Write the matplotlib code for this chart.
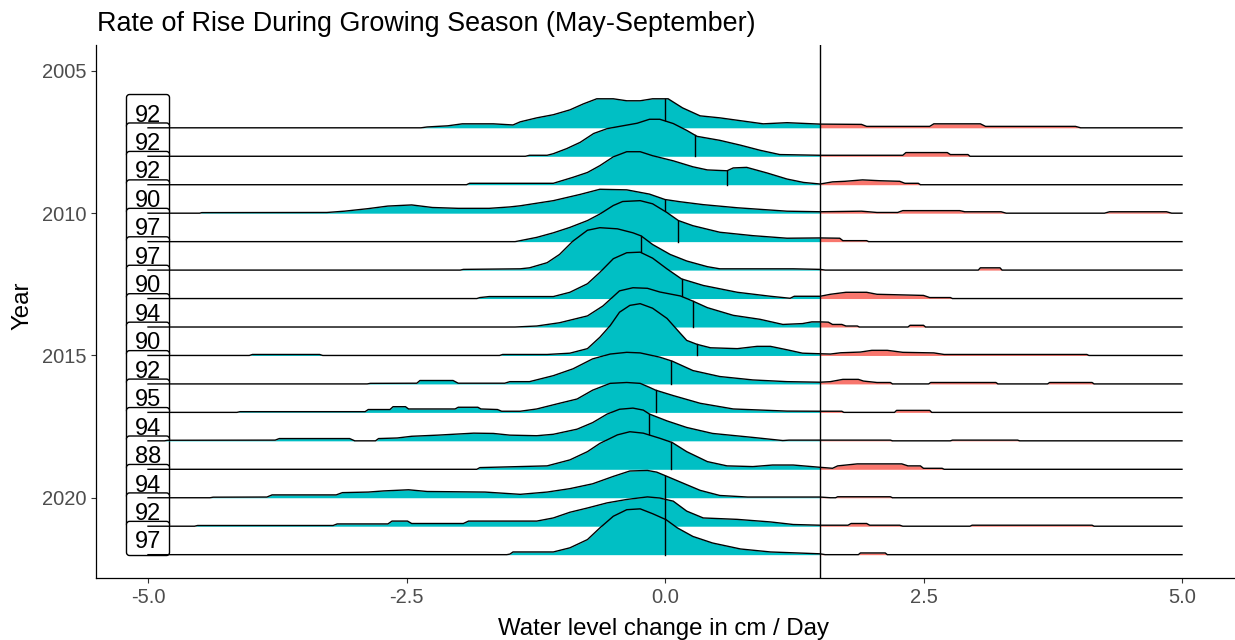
import numpy as np
import matplotlib
matplotlib.use("Agg")
import matplotlib.pyplot as plt
from matplotlib.patches import FancyBboxPatch

plt.rcParams['font.family'] = ['Liberation Sans', 'DejaVu Sans']

years = [2007, 2008, 2009, 2010, 2011, 2012, 2013, 2014,
         2015, 2016, 2017, 2018, 2019, 2020, 2021, 2022]
counts = ["92", "92", "92", "90", "97", "97", "90", "94",
          "90", "92", "95", "94", "88", "94", "92", "97"]
medians = [0.0, 0.29, 0.60, 0.0, 0.13, -0.23, 0.16, 0.27,
           0.31, 0.06, -0.09, -0.15, 0.06, 0.0, 0.0, 0.0]
threshold = 1.5

# ridge outlines: (water level change, ridge height in year units)
profile_2007 = [(-5.0, 0), (-2.36, 0), (-2.3, 0.03), (-2.1, 0.07), (-1.96, 0.14), (-1.66, 0.14),
                (-1.47, 0.10), (-1.40, 0.21), (-1.24, 0.35), (-1.08, 0.46), (-0.92, 0.63),
                (-0.79, 0.84), (-0.66, 1.02), (-0.50, 1.02), (-0.37, 0.95), (-0.24, 0.95),
                (-0.12, 1.02), (0.03, 1.02), (0.17, 0.70), (0.34, 0.42), (0.53, 0.35),
                (0.73, 0.25), (0.95, 0.14), (1.18, 0.18), (1.5, 0.13), (1.9, 0.12),
                (1.95, 0.05), (2.56, 0.05), (2.6, 0.14), (3.05, 0.14), (3.1, 0.05),
                (3.97, 0.05), (4.02, 0), (5.0, 0)]
profile_2008 = [(-5.0, 0), (-1.35, 0), (-1.31, 0.035), (-1.14, 0.035), (-1.08, 0.09), (-0.95, 0.27),
                (-0.82, 0.49), (-0.69, 0.80), (-0.56, 0.97), (-0.44, 1.05), (-0.27, 1.16),
                (-0.15, 1.30), (-0.05, 1.30), (0.08, 1.15), (0.21, 0.91), (0.31, 0.70),
                (0.53, 0.56), (0.73, 0.39), (0.92, 0.21), (1.11, 0.06), (1.5, 0.035),
                (2.30, 0.035), (2.33, 0.13), (2.73, 0.13), (2.76, 0.06), (2.93, 0.06),
                (2.95, 0), (5.0, 0)]
profile_2009 = [(-5.0, 0), (-1.92, 0), (-1.89, 0.05), (-1.08, 0.05), (-0.89, 0.26), (-0.75, 0.43),
                (-0.63, 0.67), (-0.50, 0.98), (-0.37, 1.16), (-0.24, 1.16), (-0.12, 1.02),
                (0.08, 0.84), (0.27, 0.63), (0.41, 0.52), (0.60, 0.49), (0.66, 0.59),
                (0.79, 0.61), (0.99, 0.41), (1.18, 0.20), (1.34, 0.08), (1.5, 0.025),
                (1.62, 0.10), (1.74, 0.12), (1.91, 0.17), (2.08, 0.14), (2.27, 0.12),
                (2.32, 0.05), (2.45, 0.05), (2.47, 0), (5.0, 0)]
profile_2010 = [(-5.0, 0), (-4.50, 0), (-4.48, 0.02), (-3.27, 0.025), (-3.1, 0.07), (-2.87, 0.16),
                (-2.68, 0.25), (-2.45, 0.29), (-2.25, 0.20), (-2.0, 0.17), (-1.7, 0.17),
                (-1.5, 0.22), (-1.40, 0.26), (-1.08, 0.44), (-0.82, 0.66), (-0.63, 0.84),
                (-0.37, 0.82), (-0.15, 0.67), (0.0, 0.48), (0.15, 0.40), (0.37, 0.30),
                (0.70, 0.19), (1.18, 0.07), (1.5, 0.05), (1.9, 0.07), (2.05, 0.025),
                (2.25, 0.025), (2.3, 0.09), (2.85, 0.09), (2.9, 0.05), (3.25, 0.05),
                (3.3, 0), (4.25, 0), (4.3, 0.05), (4.85, 0.05), (4.9, 0), (5.0, 0)]
profile_2011 = [(-5.0, 0), (-1.45, 0), (-1.40, 0.035), (-1.24, 0.15), (-1.08, 0.31), (-0.92, 0.50),
                (-0.75, 0.74), (-0.63, 0.97), (-0.50, 1.27), (-0.41, 1.41), (-0.24, 1.44),
                (-0.12, 1.33), (0.02, 1.02), (0.13, 0.74), (0.27, 0.56), (0.53, 0.33),
                (0.85, 0.21), (1.18, 0.12), (1.5, 0.13), (1.69, 0.12), (1.72, 0.035),
                (1.95, 0.035), (1.97, 0), (5.0, 0)]
profile_2012 = [(-5.0, 0), (-1.98, 0), (-1.95, 0.025), (-1.40, 0.045), (-1.31, 0.08), (-1.14, 0.26),
                (-1.02, 0.55), (-0.89, 1.02), (-0.75, 1.40), (-0.63, 1.49), (-0.46, 1.45),
                (-0.31, 1.31), (-0.23, 1.20), (-0.12, 0.90), (0.05, 0.55), (0.21, 0.32),
                (0.41, 0.12), (0.53, 0.045), (1.24, 0.045), (1.5, 0.025), (1.55, 0),
                (3.03, 0), (3.05, 0.08), (3.24, 0.08), (3.26, 0), (5.0, 0)]
profile_2013 = [(-5.0, 0), (-1.82, 0), (-1.79, 0.035), (-1.7, 0.07), (-1.08, 0.07), (-0.92, 0.22),
                (-0.75, 0.52), (-0.63, 0.92), (-0.50, 1.40), (-0.37, 1.61), (-0.24, 1.63),
                (-0.12, 1.42), (0.02, 1.04), (0.16, 0.69), (0.37, 0.46), (0.70, 0.22),
                (1.02, 0.08), (1.21, 0.01), (1.25, 0.08), (1.5, 0.08), (1.6, 0.15),
                (1.75, 0.22), (1.95, 0.22), (2.05, 0.15), (2.5, 0.11), (2.56, 0.035),
                (2.76, 0.035), (2.78, 0), (5.0, 0)]
profile_2014 = [(-5.0, 0), (-1.45, 0), (-1.24, 0.035), (-1.02, 0.15), (-0.75, 0.39), (-0.60, 0.74),
                (-0.44, 1.27), (-0.31, 1.38), (-0.17, 1.36), (-0.05, 1.23), (0.15, 1.09),
                (0.27, 0.91), (0.41, 0.68), (0.66, 0.41), (0.92, 0.27), (1.14, 0.09),
                (1.33, 0.12), (1.42, 0.18), (1.5, 0.18), (1.58, 0.17), (1.62, 0.09),
                (1.71, 0.09), (1.75, 0.035), (1.86, 0.035), (1.88, 0), (2.35, 0),
                (2.37, 0.06), (2.50, 0.06), (2.52, 0), (5.0, 0)]
profile_2015 = [(-5.0, 0), (-4.02, 0), (-3.99, 0.035), (-3.34, 0.035), (-3.31, 0), (-1.60, 0),
                (-1.57, 0.035), (-1.14, 0.035), (-0.92, 0.08), (-0.75, 0.24), (-0.63, 0.64),
                (-0.53, 1.05), (-0.44, 1.52), (-0.34, 1.76), (-0.24, 1.82), (-0.12, 1.66),
                (0.02, 1.30), (0.15, 0.77), (0.21, 0.53), (0.31, 0.39), (0.44, 0.27),
                (0.70, 0.24), (0.89, 0.32), (1.02, 0.32), (1.18, 0.20), (1.33, 0.08),
                (1.5, 0.06), (1.6, 0.05), (1.7, 0.095), (1.89, 0.12), (2.0, 0.18),
                (2.15, 0.18), (2.3, 0.11), (2.6, 0.09), (2.7, 0.035), (4.08, 0.035),
                (4.1, 0), (5.0, 0)]
profile_2016 = [(-5.0, 0), (-2.88, 0), (-2.85, 0.02), (-2.40, 0.025), (-2.37, 0.12), (-2.05, 0.12),
                (-2.0, 0.025), (-1.55, 0.025), (-1.50, 0.08), (-1.31, 0.08), (-1.08, 0.29),
                (-0.89, 0.53), (-0.70, 0.88), (-0.53, 1.05), (-0.37, 1.11), (-0.24, 1.09),
                (-0.05, 0.94), (0.07, 0.80), (0.27, 0.47), (0.53, 0.26), (0.85, 0.14),
                (1.18, 0.08), (1.5, 0.06), (1.6, 0.08), (1.72, 0.16), (1.87, 0.16),
                (1.92, 0.10), (2.05, 0.05), (2.18, 0.05), (2.2, 0), (2.55, 0), (2.57, 0.05),
                (3.2, 0.05), (3.22, 0), (3.7, 0), (3.72, 0.05), (4.13, 0.05), (4.15, 0),
                (5.0, 0)]
profile_2017 = [(-5.0, 0), (-4.14, 0), (-4.11, 0.025), (-2.90, 0.025), (-2.87, 0.10), (-2.66, 0.10),
                (-2.63, 0.20), (-2.51, 0.20), (-2.48, 0.12), (-2.03, 0.12), (-2.0, 0.18),
                (-1.81, 0.18), (-1.78, 0.12), (-1.62, 0.10), (-1.58, 0.04), (-1.40, 0.04),
                (-1.24, 0.12), (-1.02, 0.32), (-0.85, 0.47), (-0.70, 0.78), (-0.53, 1.02),
                (-0.37, 1.05), (-0.24, 1.02), (-0.15, 0.88), (-0.09, 0.78), (0.08, 0.59),
                (0.34, 0.32), (0.66, 0.12), (1.18, 0.045), (1.5, 0.04), (1.71, 0.04),
                (1.73, 0), (2.22, 0), (2.24, 0.07), (2.56, 0.07), (2.58, 0), (5.0, 0)]
profile_2018 = [(-5.0, 0), (-4.84, 0), (-4.81, 0.02), (-3.77, 0.025), (-3.73, 0.08), (-3.05, 0.08),
                (-3.0, 0), (-2.80, 0), (-2.77, 0.08), (-2.59, 0.10), (-2.45, 0.16),
                (-2.2, 0.20), (-2.05, 0.23), (-1.85, 0.27), (-1.66, 0.26), (-1.5, 0.20),
                (-1.24, 0.18), (-1.08, 0.23), (-0.85, 0.41), (-0.70, 0.64), (-0.56, 0.94),
                (-0.44, 1.11), (-0.31, 1.15), (-0.21, 1.08), (-0.15, 0.94), (0.02, 0.70),
                (0.21, 0.47), (0.46, 0.26), (0.85, 0.12), (1.14, 0.01), (1.2, 0.025),
                (1.5, 0.025), (2.18, 0.025), (2.2, 0), (2.76, 0), (2.78, 0.025),
                (3.41, 0.025), (3.43, 0), (5.0, 0)]
profile_2019 = [(-5.0, 0), (-1.82, 0), (-1.79, 0.06), (-1.14, 0.12), (-0.92, 0.33), (-0.75, 0.62),
                (-0.63, 0.91), (-0.46, 1.21), (-0.34, 1.32), (-0.21, 1.27), (-0.05, 1.09),
                (0.07, 0.94), (0.21, 0.62), (0.41, 0.27), (0.60, 0.12), (0.85, 0.095),
                (1.04, 0.15), (1.24, 0.15), (1.5, 0.07), (1.62, 0.035), (1.67, 0.12),
                (1.86, 0.19), (2.29, 0.19), (2.35, 0.12), (2.47, 0.12), (2.5, 0.035),
                (2.68, 0.035), (2.7, 0), (5.0, 0)]
profile_2020 = [(-5.0, 0), (-4.40, 0), (-4.37, 0.02), (-3.85, 0.025), (-3.80, 0.10), (-3.18, 0.10),
                (-3.12, 0.18), (-2.87, 0.20), (-2.72, 0.24), (-2.48, 0.28), (-2.3, 0.22),
                (-1.74, 0.20), (-1.57, 0.16), (-1.40, 0.12), (-1.14, 0.20), (-0.92, 0.32),
                (-0.70, 0.49), (-0.50, 0.75), (-0.34, 0.94), (-0.17, 0.96), (-0.08, 0.90),
                (0.0, 0.78), (0.15, 0.55), (0.34, 0.26), (0.53, 0.08), (0.8, 0.025),
                (1.5, 0.025), (1.6, 0), (1.65, 0), (1.67, 0.035), (2.18, 0.035), (2.2, 0),
                (5.0, 0)]
profile_2021 = [(-5.0, 0), (-4.55, 0), (-4.52, 0.025), (-3.21, 0.025), (-3.17, 0.08), (-2.68, 0.08),
                (-2.64, 0.18), (-2.49, 0.18), (-2.45, 0.095), (-1.95, 0.095), (-1.9, 0.18),
                (-1.24, 0.18), (-1.08, 0.29), (-0.92, 0.49), (-0.75, 0.64), (-0.56, 0.82),
                (-0.37, 0.94), (-0.17, 1.03), (-0.05, 0.99), (0.08, 0.88), (0.21, 0.53),
                (0.37, 0.29), (0.70, 0.24), (1.02, 0.15), (1.24, 0.06), (1.5, 0.035),
                (1.77, 0.035), (1.8, 0.095), (1.95, 0.095), (1.98, 0.035), (2.27, 0.035),
                (2.3, 0), (2.95, 0), (2.97, 0.035), (4.13, 0.035), (4.15, 0), (5.0, 0)]
profile_2022 = [(-5.0, 0), (-1.53, 0), (-1.50, 0.02), (-1.47, 0.095), (-1.08, 0.095), (-0.92, 0.24),
                (-0.75, 0.53), (-0.63, 0.94), (-0.50, 1.35), (-0.37, 1.58), (-0.24, 1.61),
                (-0.12, 1.44), (0.01, 1.23), (0.12, 0.94), (0.27, 0.64), (0.46, 0.41),
                (0.73, 0.20), (1.02, 0.095), (1.5, 0.03), (1.55, 0), (1.87, 0),
                (1.89, 0.06), (2.13, 0.06), (2.15, 0), (5.0, 0)]

profiles = [profile_2007, profile_2008, profile_2009, profile_2010, profile_2011, profile_2012,
            profile_2013, profile_2014, profile_2015, profile_2016, profile_2017, profile_2018,
            profile_2019, profile_2020, profile_2021, profile_2022]

teal = "#00BFC4"
salmon = "#F8766D"

fig = plt.figure(figsize=(12.35, 6.4), dpi=100)
ax = fig.add_axes([96.3 / 1235, 1 - 578 / 640, (1233.7 - 96.3) / 1235, (578 - 45) / 640])
ax.set_xlim(-5.5, 5.5)
ax.set_ylim(2022.82, 2004.09)

# count labels behind the ridges
for yr, txt in zip(years, counts):
    box = FancyBboxPatch((-5.208, yr - 1.17), 0.416, 1.2,
                         boxstyle="round,pad=0,rounding_size=0.03",
                         mutation_aspect=3.6, fc="white", ec="black", lw=1.0, zorder=1)
    ax.add_patch(box)
    ax.text(-5.0, yr - 0.43, txt, ha="center", va="center", fontsize=17, zorder=1.5)

for i, (yr, prof, med) in enumerate(zip(years, profiles, medians)):
    xs = np.array([p[0] for p in prof])
    hs = np.array([p[1] for p in prof])
    top = yr - hs
    z = 2 + i * 0.1
    ax.fill_between(xs, yr, top, where=xs <= threshold, color=teal, lw=0, zorder=z)
    ax.fill_between(xs, yr, top, where=xs >= threshold, color=salmon, lw=0, zorder=z)
    ax.plot(xs, top, color="black", lw=1.0, zorder=z + 0.01)
    mh = np.interp(med, xs, hs)
    ax.plot([med, med], [yr, yr - mh], color="black", lw=1.0, zorder=z + 0.02)

ax.axvline(threshold, color="black", lw=1.0, zorder=50)

ax.set_xticks([-5.0, -2.5, 0.0, 2.5, 5.0])
ax.set_xticklabels(["-5.0", "-2.5", "0.0", "2.5", "5.0"])
ax.set_yticks([2005, 2010, 2015, 2020])
ax.set_yticklabels(["2005", "2010", "2015", "2020"])
ax.tick_params(axis="both", length=3.3, width=0.8, color="#333333",
               labelcolor="#4D4D4D", labelsize=14.5, pad=4)

for s in ["top", "right"]:
    ax.spines[s].set_visible(False)
for s in ["left", "bottom"]:
    ax.spines[s].set_color("black")
    ax.spines[s].set_linewidth(0.9)

fig.text(97 / 1235, 1 - 31 / 640, "Rate of Rise During Growing Season (May-September)",
         fontsize=19.4, ha="left", va="baseline")
fig.text(664 / 1235, 1 - 635 / 640, "Water level change in cm / Day",
         fontsize=17.3, ha="center", va="baseline")
fig.text(22 / 1235, 1 - 306 / 640, "Year", fontsize=17.3, rotation=90,
         ha="center", va="center")

fig.savefig("out.png", dpi=100)
